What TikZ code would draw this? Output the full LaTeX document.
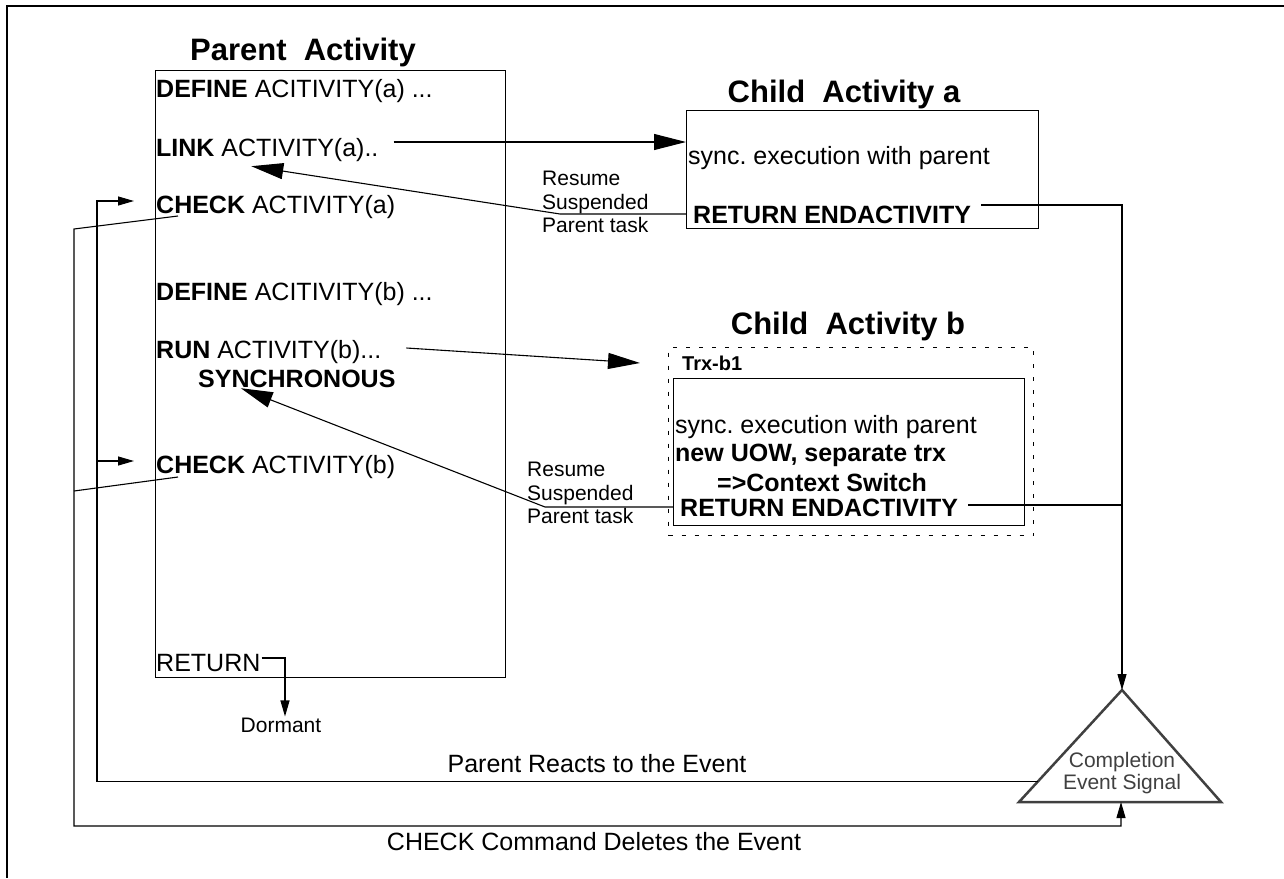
\documentclass[tikz,border=0pt]{standalone}
\usepackage{fontspec}
\setmainfont{Liberation Sans}
\usetikzlibrary{arrows.meta,calc}
\frenchspacing

\begin{document}
\begin{tikzpicture}[x=1pt,y=-1pt]
   \tikzstyle{every node}=[inner sep=1pt, font=\fontsize{25}{30}\selectfont]
   \tikzstyle{line}=[anchor=west, text height=18pt, text depth=0pt]
   \tikzstyle{heading}=[anchor=base, font=\fontsize{31}{36}\selectfont\bfseries]
   \tikzstyle{box}=[draw, line width=1.1pt, anchor=north west]
   \tikzstyle{note}=[anchor=west, align=left, font=\fontsize{21}{23.5}\selectfont]
   \tikzstyle{wire}=[line width=1.1pt]
   \tikzstyle{bigtip}=[wire, -{Triangle[length=32pt,width=16pt]}]
   \tikzstyle{smalltip}=[wire, -{Triangle[length=16pt,width=9pt]}]

\useasboundingbox (0,0) rectangle (1284,878);
\draw[line width=1.3pt] (1284,6) -- (7,6) -- (7,878);

% parent activity
\node[heading] (ptitle) at (303,60) {Parent\ \ Activity};
\node[box, minimum width=350pt, minimum height=607pt] (parent) at (155,70) {};
\node[line] (defa) at (155,88) {\textbf{DEFINE} ACITIVITY(a) ...};
\node[line] (link) at (155,147) {\textbf{LINK} ACTIVITY(a)..};
\node[line] (chka) at (155,204) {\textbf{CHECK} ACTIVITY(a)};
\node[line] (defb) at (155,291) {\textbf{DEFINE} ACITIVITY(b) ...};
\node[line] (run) at (155,349) {\textbf{RUN} ACTIVITY(b)...};
\node[line] (sync) at (197,378) {\textbf{SYNCHRONOUS}};
\node[line] (chkb) at (155,464) {\textbf{CHECK} ACTIVITY(b)};
\node[line] (ret) at (155,662) {RETURN};
\node[font=\fontsize{21}{24}\selectfont] (dormant) at (281,725) {Dormant};

% child activity a
\node[heading] (atitle) at (844,102) {Child\ \ Activity a};
\node[box, minimum width=352pt, minimum height=118pt] (childa) at (686,110) {};
\node[line] (synca) at (687,155) {sync. execution with parent};
\node[line] (reta) at (692,214) {\textbf{RETURN ENDACTIVITY}};

% child activity b
\node[heading] (btitle) at (848,334) {Child\ \ Activity b};
\node[box, dash pattern=on 4pt off 9pt, minimum width=365pt, minimum height=188pt] (childb) at (668,347) {};
\node[line, text height=14pt, font=\fontsize{20}{24}\selectfont\bfseries] (trx) at (681,363) {Trx-b1};
\node[box, minimum width=351pt, minimum height=147pt] (uow) at (673,378) {};
\node[line] (syncb) at (674,424) {sync. execution with parent};
\node[line] (newuow) at (674,452) {\textbf{new UOW, separate trx}};
\node[line] (ctx) at (716,482) {\textbf{=>Context Switch}};
\node[line] (retb) at (679,507) {\textbf{RETURN ENDACTIVITY}};

% completion event signal
\coordinate (sigtop) at (1122,690);
\coordinate (sigleft) at (1019,802);
\coordinate (sigright) at (1221,802);
\coordinate (sigbot) at (1121,802);
\draw[line width=2.5pt, draw=black!75] (sigtop) -- (sigleft) -- (sigright) -- cycle;
\node[align=center, text=black!75, font=\fontsize{21}{22}\selectfont] (sig) at (1122,773) {Completion\\Event Signal};

% calls and resumes
\draw[bigtip] ($(link.east)+(14,-5)$) -- ($(link.east -| childa.west)+(0,-5)$);
\draw[bigtip] (reta.west -| childa.west) -- ++(-126,0) -- ($(link.south)+(-16,9)$);
\node[note] (resa) at (541,202) {Resume\\Suspended\\Parent task};
\draw[bigtip] ($(run.east)+(24,-1)$) -- ($(trx.west -| childb.west)+(-28,0)$);
\draw[bigtip] (retb.west -| uow.west) -- ++(-128,0) -- ($(sync.south)+(-56,0)$);
\node[note] (resb) at (526,493) {Resume\\Suspended\\Parent task};

% completion signals
\draw[smalltip] ($(reta.east)+(9,-9)$) -| (sigtop);
\draw[wire] ($(retb.east)+(9,-2)$) -- ($(retb.east -| sigtop)+(0,-2)$);
\draw[smalltip] ($(ret.east)+(0,-4)$) -| ($(dormant.north)+(4,0)$);

% parent reacts / check deletes
\draw[smalltip] ($(sigleft)!0.18!(sigtop)$) -| ($(chka.west)+(-58,-3)$) -- ($(chka.west)+(-21,-3)$);
\draw[smalltip] ($(chkb.west)+(-58,-3)$) -- ($(chkb.west)+(-21,-3)$);
\draw[smalltip] ($(chka.west)+(23,12)$) -- ($(chka.west)+(-81,25)$) |- ($(sigbot)+(0,24)$) -- (sigbot);
\draw[wire] ($(chkb.west)+(23,13)$) -- ($(chkb.west)+(-81,27)$);
\node (reacts) at (597,764) {Parent Reacts to the Event};
\node (deletes) at (594,842) {CHECK Command Deletes the Event};

\end{tikzpicture}
\end{document}
